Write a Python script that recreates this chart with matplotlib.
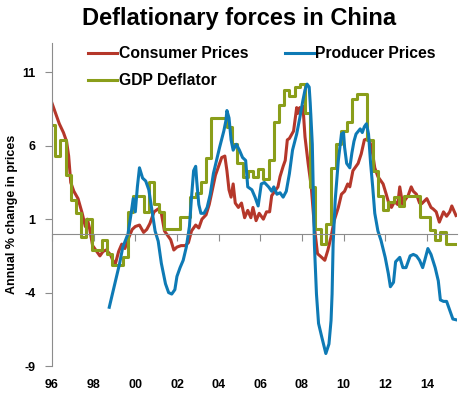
import numpy as np
import matplotlib
matplotlib.use('Agg')
import matplotlib.pyplot as plt

plt.rcParams['font.family'] = ['Liberation Sans', 'DejaVu Sans']
plt.rcParams['font.weight'] = 'bold'
plt.rcParams['axes.unicode_minus'] = False

# Consumer prices (annual % change)
cpi_year = [1996.0, 1996.15, 1996.35, 1996.55, 1996.7, 1996.8, 1996.9, 1997.05, 1997.25,
            1997.45, 1997.6, 1997.7, 1997.8, 1997.95, 1998.15, 1998.3, 1998.45, 1998.6,
            1998.8, 1998.95, 1999.05, 1999.2, 1999.35, 1999.5, 1999.7, 1999.85, 2000.0,
            2000.2, 2000.4, 2000.55, 2000.7, 2000.9, 2001.1, 2001.25, 2001.4, 2001.55,
            2001.7, 2001.85, 2002.0, 2002.2, 2002.4, 2002.55, 2002.7, 2002.9, 2003.05,
            2003.2, 2003.4, 2003.55, 2003.7, 2003.85, 2004.0, 2004.15, 2004.3, 2004.4,
            2004.5, 2004.6, 2004.7, 2004.8, 2004.95, 2005.1, 2005.25, 2005.4, 2005.55,
            2005.65, 2005.8, 2005.95, 2006.15, 2006.3, 2006.45, 2006.55, 2006.7, 2006.85,
            2006.95, 2007.1, 2007.2, 2007.3, 2007.4, 2007.6, 2007.75, 2007.8, 2007.9,
            2008.0, 2008.05, 2008.15, 2008.3, 2008.45, 2008.6, 2008.75, 2008.95, 2009.1,
            2009.25, 2009.4, 2009.55, 2009.75, 2009.9, 2010.05, 2010.2, 2010.3, 2010.45,
            2010.7, 2010.85, 2011.0, 2011.2, 2011.35, 2011.5, 2011.65, 2011.75, 2011.9,
            2012.05, 2012.15, 2012.3, 2012.45, 2012.6, 2012.7, 2012.85, 2012.95, 2013.1,
            2013.25, 2013.35, 2013.5, 2013.65, 2013.75, 2014.0, 2014.2, 2014.3, 2014.45,
            2014.6, 2014.8, 2014.95, 2015.1, 2015.2, 2015.4]
cpi = [8.9, 8.3, 7.5, 6.9, 6.3, 5.3, 3.5, 2.9, 2.4,
       1.4, 0.5, 1.0, 0.4, -0.8, -1.2, -1.5, -1.2, -1.1,
       -1.4, -1.9, -2.0, -1.2, -0.7, -1.0, -0.2, 0.3, 0.5,
       0.6, 0.1, 0.3, 0.7, 1.5, 1.7, 1.4, 0.2, -0.1,
       -0.4, -1.1, -0.9, -0.8, -0.8, -0.6, 0.2, 0.6, 0.4,
       1.0, 1.3, 2.0, 3.0, 4.0, 4.6, 5.2, 5.3, 4.3,
       3.0, 2.5, 3.4, 2.1, 1.8, 2.1, 1.1, 1.6, 1.1,
       1.8, 0.9, 1.4, 1.0, 1.5, 1.5, 2.6, 2.9, 3.2,
       3.9, 4.6, 5.0, 6.4, 6.5, 7.0, 8.6, 8.2, 8.6,
       8.3, 8.7, 6.6, 4.8, 3.2, 0.5, -1.35, -1.6, -1.8,
       -1.1, -0.2, 0.9, 1.8, 2.7, 2.9, 3.4, 3.2, 4.3,
       4.8, 5.45, 6.4, 6.5, 5.9, 4.5, 3.9, 3.7, 3.4,
       2.7, 2.2, 1.8, 2.2, 2.0, 3.2, 1.9, 2.3, 2.6,
       3.2, 2.9, 2.7, 2.1, 2.05, 2.4, 1.8, 1.7, 1.5,
       0.8, 1.5, 1.2, 1.5, 1.9, 1.25]

# Producer prices (annual % change)
ppi_year = [1998.75, 1998.95, 1999.1, 1999.25, 1999.4, 1999.65, 1999.8, 1999.9, 2000.0,
            2000.1, 2000.2, 2000.35, 2000.5, 2000.65, 2000.8, 2000.95, 2001.1, 2001.25,
            2001.45, 2001.6, 2001.75, 2001.9, 2002.0, 2002.15, 2002.3, 2002.45, 2002.6,
            2002.7, 2002.8, 2002.9, 2002.95, 2003.05, 2003.15, 2003.3, 2003.45, 2003.6,
            2003.75, 2003.9, 2004.05, 2004.25, 2004.35, 2004.4, 2004.5, 2004.6, 2004.7,
            2004.85, 2005.0, 2005.15, 2005.3, 2005.4, 2005.6, 2005.75, 2005.9, 2006.05,
            2006.2, 2006.4, 2006.55, 2006.65, 2006.8, 2006.95, 2007.1, 2007.25, 2007.4,
            2007.55, 2007.75, 2007.9, 2008.05, 2008.15, 2008.25, 2008.35, 2008.4, 2008.5,
            2008.55, 2008.6, 2008.7, 2008.8, 2008.95, 2009.15, 2009.3, 2009.4, 2009.45,
            2009.5, 2009.6, 2009.75, 2009.9, 2010.0, 2010.05, 2010.15, 2010.3, 2010.4,
            2010.5, 2010.6, 2010.8, 2010.9, 2011.0, 2011.1, 2011.2, 2011.3, 2011.4,
            2011.5, 2011.65, 2011.8, 2012.0, 2012.15, 2012.25, 2012.4, 2012.5, 2012.7,
            2012.85, 2013.0, 2013.2, 2013.35, 2013.5, 2013.65, 2013.8, 2013.9, 2014.05,
            2014.2, 2014.4, 2014.55, 2014.65, 2014.8, 2014.95, 2015.1, 2015.25, 2015.4]
ppi = [-5.0, -3.8, -2.9, -2.0, -0.9, 0.0, 1.4, 2.4, 1.5,
       3.2, 4.5, 3.8, 3.6, 3.0, 1.6, 0.2, -0.5, -2.0,
       -3.4, -4.0, -4.1, -3.8, -2.9, -2.3, -1.8, -0.9, 0.5,
       2.5, 4.3, 4.6, 3.6, 2.0, 1.4, 1.4, 1.8, 2.7,
       4.1, 5.0, 5.9, 7.0, 7.7, 8.4, 7.9, 6.4, 5.7,
       6.1, 5.7, 5.2, 5.0, 3.2, 3.0, 2.5, 1.9, 3.4,
       3.5, 3.2, 2.9, 3.2, 2.7, 2.8, 2.5, 2.9, 4.1,
       5.7, 6.8, 7.9, 9.1, 9.8, 10.2, 10.0, 8.9, 6.1,
       2.7, -0.7, -4.1, -6.1, -7.0, -8.15, -7.5, -5.9, -4.1,
       -0.7, 2.3, 5.0, 6.8, 6.9, 5.9, 4.8, 4.5, 5.5,
       6.3, 6.8, 7.15, 6.9, 7.3, 7.5, 6.8, 4.8, 3.2,
       1.4, 0.2, -0.45, -1.6, -2.7, -3.6, -3.3, -1.9, -1.6,
       -2.3, -2.3, -1.5, -1.4, -1.5, -1.8, -2.3, -1.8, -1.0,
       -1.4, -2.3, -3.2, -4.5, -4.6, -4.6, -5.2, -5.8, -5.85]

# GDP deflator, quarterly from 1996Q1
gdp_deflator = [7.4, 5.3, 6.4, 4.0, 2.3, 1.4, -0.2, 1.0,
                -1.1, -1.1, -0.45, -1.35, -2.1, -2.1, -1.6, 1.5,
                2.6, 2.6, 1.5, 3.5, 2.0, 1.5, 0.35, 0.35,
                0.35, 1.15, 1.15, 2.5, 2.8, 3.5, 5.2, 7.9,
                7.9, 7.9, 7.3, 6.1, 4.8, 3.9, 4.3, 3.9,
                4.4, 3.75, 5.0, 7.6, 8.75, 9.8, 9.4, 10.0,
                10.2, 8.2, 3.2, 0.35, -0.7, 0.7, 4.5, 6.1,
                7.0, 7.6, 9.2, 9.5, 9.5, 6.4, 4.3, 2.6,
                1.6, 2.2, 2.5, 1.9, 2.6, 2.6, 2.6, 1.15,
                1.15, 0.25, -0.45, 0.1, -0.7, -0.7]

year_ticks = [1996, 1998, 2000, 2002, 2004, 2006, 2008, 2010, 2012, 2014]
year_labels = ['96', '98', '00', '02', '04', '06', '08', '10', '12', '14']
y_ticks = [11, 6, 1, -4, -9]

red = '#B5372A'
blue = '#0E7AB5'
green = '#8A9E1A'
grey = '#8C8C8C'

fig = plt.figure(figsize=(4.74, 3.93), dpi=100)
ax = fig.add_axes([0.1097, 0.0687, 0.8545, 0.8219])

# quarterly steps, each quarter drawn from its start
q_start = 1995.9 + 0.25 * np.arange(len(gdp_deflator) + 1)
gdp_vals = list(gdp_deflator) + [gdp_deflator[-1]]

ax.plot(cpi_year, cpi, color=red, lw=2.2, label='Consumer Prices', solid_joinstyle='round')
ax.plot(q_start, gdp_vals, color=green, lw=2.2, drawstyle='steps-post', label='GDP Deflator')
ax.plot(ppi_year, ppi, color=blue, lw=2.2, label='Producer Prices', solid_joinstyle='round')

ax.set_xlim(1996, 2015.45)
ax.set_ylim(-9, 13)
ax.set_yticks(y_ticks)
ax.tick_params(axis='y', direction='out', length=5, color=grey, labelsize=9, pad=7)
for lbl in ax.get_yticklabels():
    lbl.set_fontweight('bold')

for s in ['top', 'right']:
    ax.spines[s].set_visible(False)
ax.spines['left'].set_color(grey)
ax.spines['bottom'].set_position(('data', 0))
ax.spines['bottom'].set_color(grey)
ax.set_xticks(year_ticks)
ax.tick_params(axis='x', direction='out', length=5, color=grey, labelbottom=False)

sec = ax.secondary_xaxis('bottom')
sec.set_xticks(year_ticks)
sec.set_xticklabels(year_labels, fontsize=9, fontweight='bold')
sec.tick_params(length=0, pad=9)
sec.spines['bottom'].set_visible(False)

ax.set_ylabel('Annual % change in prices', fontsize=9, fontweight='bold')
ax.yaxis.set_label_coords(-0.083, 0.47)

handles, labels = ax.get_legend_handles_labels()
leg = ax.legend(handles, labels, ncol=2,
                loc='upper left', bbox_to_anchor=(0.089, 0.99), frameon=False,
                prop={'size': 11.3, 'weight': 'bold'}, handlelength=1.85,
                handletextpad=0.12, columnspacing=2.3, borderpad=0, borderaxespad=0,
                labelspacing=0.75)

fig.text(0.504, 1 - 18 / 393, 'Deflationary forces in China', ha='center', va='center',
         fontsize=17, fontweight='bold')

fig.savefig('out.png', dpi=100)
